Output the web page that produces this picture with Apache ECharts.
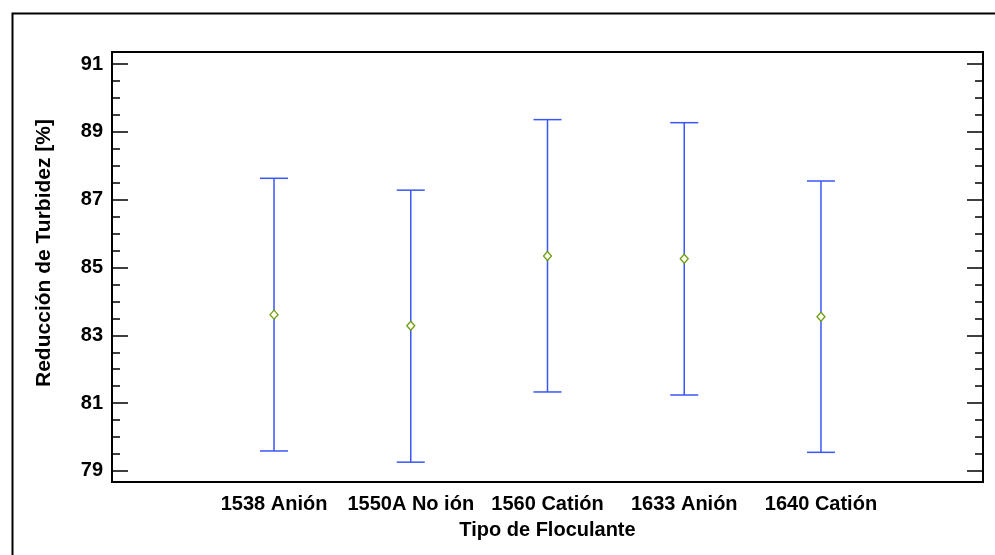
<!DOCTYPE html>
<html>
<head>
<meta charset="utf-8">
<script src="https://cdn.jsdelivr.net/npm/echarts@6/dist/echarts.min.js"></script>
<style>html,body{margin:0;padding:0;background:#fff;}#c{width:995px;height:555px;}</style>
</head>
<body>
<div id="c"></div>
<script>
const categories = ['1538 Anión', '1550A No ión', '1560 Catión', '1633 Anión', '1640 Catión'];
const means  = [83.61, 83.28, 85.34, 85.26, 83.55];
const lowers = [79.59, 79.26, 81.33, 81.24, 79.55];
const uppers = [87.63, 87.28, 89.36, 89.27, 87.55];
const majorTicks = [79, 81, 83, 85, 87, 89, 91];
const minorTicks = [79, 79.5, 80, 80.5, 81, 81.5, 82, 82.5, 83, 83.5, 84, 84.5, 85, 85.5, 86, 86.5, 87, 87.5, 88, 88.5, 89, 89.5, 90, 90.5, 91];
const xPositions = [0, 1, 2, 3, 4];
const xTitle = 'Tipo de Floculante';
const yTitle = 'Reducción de Turbidez [%]';

const FONT = 'Liberation Sans, Arial, sans-serif';
const Y_MIN = 78.675, Y_MAX = 91.354;
const X_MIN = -1.185, X_MAX = 5.185;
const BAR_COLOR = '#3a55f5';

const chart = echarts.init(document.getElementById('c'), null, {renderer: 'canvas'});

const errData = xPositions.map((x, i) => [x, lowers[i], uppers[i]]);
const meanData = xPositions.map((x, i) => [x, means[i]]);

function yAxisDef(position, ticks, len, labels) {
  return {
    type: 'value', position: position, min: Y_MIN, max: Y_MAX,
    axisLine: {show: true, onZero: false, lineStyle: {color: '#000', width: 2}},
    axisTick: {show: true, inside: true, length: len, customValues: ticks, lineStyle: {color: '#000', width: 1.5}},
    axisLabel: labels ? {show: true, customValues: ticks, margin: 9, color: '#000', fontFamily: FONT, fontWeight: 'bold', fontSize: 20,
      formatter: v => String(Math.round(v))} : {show: false},
    splitLine: {show: false}
  };
}

chart.setOption({
  animation: false,
  backgroundColor: '#fff',
  grid: {left: 112, top: 52, right: 12, bottom: 73, containLabel: false},
  graphic: [{
    type: 'rect', left: 10, top: 11, z: 100,
    shape: {x: 0, y: 0, width: 1000, height: 600},
    style: {fill: null, stroke: '#000', lineWidth: 2}
  }, {
    type: 'text', x: 44, y: 253, rotation: Math.PI / 2, z: 100,
    style: {text: yTitle, fill: '#000', font: 'bold 21px ' + FONT, align: 'center', verticalAlign: 'middle'}
  }],
  xAxis: [{
    type: 'value', position: 'bottom', min: X_MIN, max: X_MAX,
    axisLine: {show: true, onZero: false, lineStyle: {color: '#000', width: 2}},
    axisTick: {show: false},
    splitLine: {show: false},
    axisLabel: {show: true, customValues: xPositions, margin: 12, color: '#000', fontFamily: FONT, fontWeight: 'bold', fontSize: 20,
      formatter: v => categories[Math.round(v)]},
    name: xTitle, nameLocation: 'middle', nameGap: 38,
    nameTextStyle: {color: '#000', fontFamily: FONT, fontWeight: 'bold', fontSize: 20}
  }, {
    type: 'value', position: 'top', min: X_MIN, max: X_MAX,
    axisLine: {show: true, onZero: false, lineStyle: {color: '#000', width: 2}},
    axisTick: {show: false}, axisLabel: {show: false}, splitLine: {show: false}
  }],
  yAxis: [
    yAxisDef('left', majorTicks, 16, true),
    yAxisDef('left', minorTicks, 8, false),
    yAxisDef('right', majorTicks, 16, false),
    yAxisDef('right', minorTicks, 8, false)
  ],
  series: [{
    type: 'custom',
    xAxisIndex: 0, yAxisIndex: 0,
    data: errData,
    renderItem: function (params, api) {
      const x = api.value(0);
      const pLo = api.coord([x, api.value(1)]);
      const pHi = api.coord([x, api.value(2)]);
      const half = 14;
      const st = {stroke: BAR_COLOR, lineWidth: 1.5};
      return {type: 'group', children: [
        {type: 'line', shape: {x1: pLo[0], y1: pLo[1], x2: pHi[0], y2: pHi[1]}, style: st},
        {type: 'line', shape: {x1: pHi[0] - half, y1: pHi[1], x2: pHi[0] + half, y2: pHi[1]}, style: st},
        {type: 'line', shape: {x1: pLo[0] - half, y1: pLo[1], x2: pLo[0] + half, y2: pLo[1]}, style: st}
      ]};
    },
    z: 2
  }, {
    type: 'scatter',
    xAxisIndex: 0, yAxisIndex: 0,
    data: meanData,
    symbol: 'diamond', symbolSize: [8, 9],
    itemStyle: {color: '#fffff0', borderColor: '#6a9a10', borderWidth: 1.3, opacity: 1},
    z: 3
  }]
});
</script>
</body>
</html>
